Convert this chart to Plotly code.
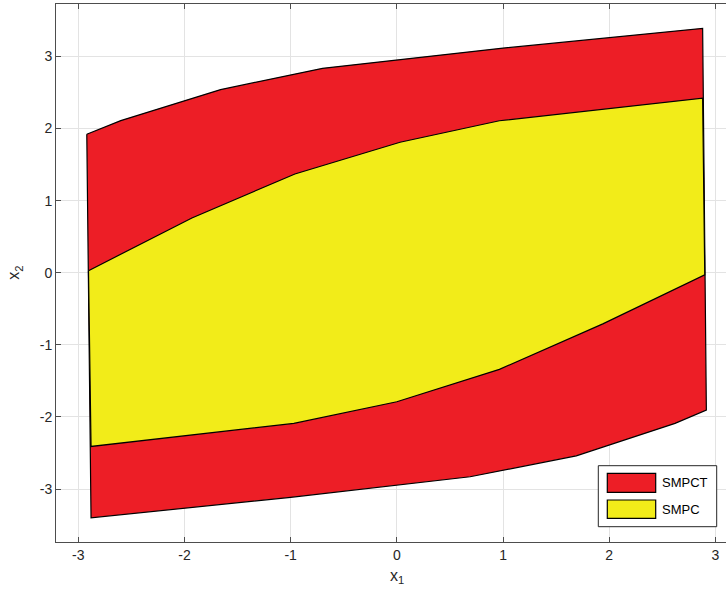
import plotly.graph_objects as go

# SMPCT (outer, red) polygon vertices
smpct_x1 = [-2.92, -2.60, -1.66, -0.70, 1.00, 2.88, 2.915, 2.62, 1.69, 0.69, -1.00, -2.88, -2.92]
smpct_x2 = [1.92, 2.11, 2.54, 2.835, 3.115, 3.39, -1.905, -2.09, -2.54, -2.83, -3.115, -3.40, 1.92]

# SMPC (inner, yellow) polygon vertices
smpc_x1 = [-2.904, -1.93, -0.96, 0.03, 0.966, 2.88, 2.90, 1.94, 0.966, 0.0, -0.97, -2.88, -2.904]
smpc_x2 = [0.028, 0.76, 1.37, 1.81, 2.108, 2.42, -0.03, -0.71, -1.34, -1.79, -2.09, -2.41, 0.028]

series_names = ["SMPCT", "SMPC"]
series_colors = ["#ED1E26", "#F2EC19"]

x_ticks = [-3, -2, -1, 0, 1, 2, 3]
y_ticks = [-3, -2, -1, 0, 1, 2, 3]

FONT = "Liberation Sans, Arial, Helvetica, sans-serif"
TXT = "#262626"

fig = go.Figure()
for xs, ys, name, col in [(smpct_x1, smpct_x2, series_names[0], series_colors[0]),
                          (smpc_x1, smpc_x2, series_names[1], series_colors[1])]:
    fig.add_trace(go.Scatter(x=xs, y=ys, mode="lines", fill="toself", fillcolor=col,
                             line=dict(color="black", width=1.2), name=name,
                             showlegend=False, hoverinfo="skip"))

# Legend drawn manually to mimic MATLAB-style legend box
def px_x(p):
    return (p - 56) / 670.0

def px_y(p):
    return (542 - p) / 538.0

shapes = [
    dict(type="rect", xref="paper", yref="paper", x0=px_x(598.3), x1=px_x(716.7),
         y0=px_y(526.7), y1=px_y(465.7), line=dict(color="#262626", width=1), fillcolor="white", layer="above"),
]
entries = [(473.3, 492.3), (500.0, 518.3)]
annotations = []
for (ya, yb), name, col in zip(entries, series_names, series_colors):
    shapes.append(dict(type="rect", xref="paper", yref="paper", x0=px_x(607.3), x1=px_x(655.7),
                       y0=px_y(yb), y1=px_y(ya), line=dict(color="black", width=1.2),
                       fillcolor=col, layer="above"))
    annotations.append(dict(xref="paper", yref="paper", x=px_x(660), y=px_y((ya + yb) / 2),
                            text=name, showarrow=False, xanchor="left", yanchor="middle",
                            font=dict(family=FONT, size=13, color="black")))

annotations.append(dict(xref="paper", yref="paper", x=px_x(396.7), y=px_y(576), text="x<sub>1</sub>",
                        showarrow=False, xanchor="center", yanchor="middle",
                        font=dict(family=FONT, size=16, color=TXT)))
annotations.append(dict(xref="paper", yref="paper", x=px_x(15), y=px_y(272.7), text="x<sub>2</sub>",
                        showarrow=False, xanchor="center", yanchor="middle", textangle=-90,
                        font=dict(family=FONT, size=16, color=TXT)))

fig.update_layout(
    width=726, height=589,
    margin=dict(l=56, r=0, t=4, b=47),
    paper_bgcolor="white", plot_bgcolor="white",
    showlegend=False,
    shapes=shapes, annotations=annotations,
    font=dict(family=FONT, size=14, color=TXT),
)
fig.update_xaxes(range=[-3.21, 3.10], tickvals=x_ticks, ticktext=[str(v) for v in x_ticks],
                 showgrid=True, gridcolor="#E3E3E3", gridwidth=1, zeroline=False,
                 showline=True, linecolor="#4D4D4D", linewidth=1, mirror="ticks",
                 ticks="inside", ticklen=5, tickcolor="#4D4D4D",
                 tickfont=dict(family=FONT, size=14, color=TXT))
fig.update_yaxes(range=[-3.735, 3.727], tickvals=y_ticks, ticktext=[str(v) for v in y_ticks],
                 showgrid=True, gridcolor="#E3E3E3", gridwidth=1, zeroline=False,
                 showline=True, linecolor="#4D4D4D", linewidth=1, mirror=False,
                 ticks="inside", ticklen=5, tickcolor="#4D4D4D",
                 tickfont=dict(family=FONT, size=14, color=TXT))

fig.write_html("out.html")
